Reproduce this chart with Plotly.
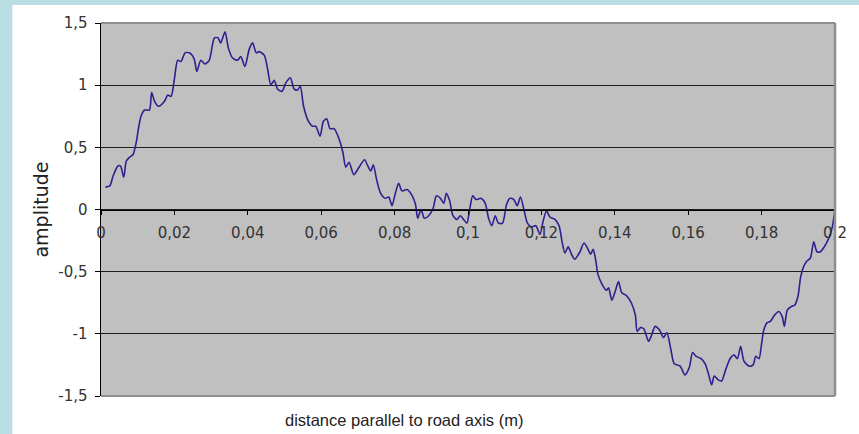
import plotly.graph_objects as go

# distance parallel to road axis (m)
x_m = [
    0.0012, 0.0024, 0.0033, 0.0046, 0.0053, 0.0062, 0.0069, 0.0078, 0.0087, 0.0096,
    0.0102, 0.0109, 0.0119, 0.0132, 0.0138, 0.0146, 0.0157, 0.0173, 0.0182, 0.0191,
    0.0200, 0.0209, 0.0218, 0.0229, 0.0241, 0.0254, 0.0261, 0.0272, 0.0283, 0.0295,
    0.0309, 0.0319, 0.0326, 0.0338, 0.0347, 0.0358, 0.0372, 0.0381, 0.0392, 0.0404,
    0.0413, 0.0423, 0.0431, 0.0445, 0.0454, 0.0463, 0.0472, 0.0481, 0.0493, 0.0504,
    0.0516, 0.0526, 0.0535, 0.0543, 0.0552, 0.0565, 0.0576, 0.0585, 0.0597, 0.0606,
    0.0615, 0.0624, 0.0635, 0.0649, 0.0659, 0.0667, 0.0676, 0.0689, 0.0703, 0.0718,
    0.0727, 0.0735, 0.0742, 0.0751, 0.0762, 0.0775, 0.0784, 0.0793, 0.0802, 0.0811,
    0.0820, 0.0834, 0.0848, 0.0857, 0.0863, 0.0872, 0.0881, 0.0893, 0.0905, 0.0914,
    0.0925, 0.0934, 0.0941, 0.0950, 0.0959, 0.0970, 0.0979, 0.0988, 0.0997, 0.1004,
    0.1013, 0.1022, 0.1035, 0.1047, 0.1056, 0.1065, 0.1074, 0.1083, 0.1094, 0.1105,
    0.1114, 0.1125, 0.1134, 0.1143, 0.1153, 0.1162, 0.1173, 0.1185, 0.1196, 0.1205,
    0.1214, 0.1223, 0.1237, 0.1248, 0.1257, 0.1264, 0.1273, 0.1282, 0.1291, 0.1305,
    0.1316, 0.1327, 0.1334, 0.1341, 0.1347, 0.1354, 0.1365, 0.1377, 0.1383, 0.1392,
    0.1401, 0.1410, 0.1419, 0.1431, 0.1445, 0.1456, 0.1461, 0.1470, 0.1479, 0.1492,
    0.1499, 0.1510, 0.1522, 0.1533, 0.1542, 0.1553, 0.1562, 0.1578, 0.1591, 0.1603,
    0.1612, 0.1621, 0.1635, 0.1646, 0.1655, 0.1664, 0.1671, 0.1682, 0.1691, 0.1702,
    0.1714, 0.1725, 0.1734, 0.1743, 0.1752, 0.1766, 0.1777, 0.1784, 0.1793, 0.1799,
    0.1806, 0.1815, 0.1824, 0.1835, 0.1847, 0.1856, 0.1862, 0.1870, 0.1881, 0.1890,
    0.1899, 0.1906, 0.1913, 0.1922, 0.1933, 0.1942, 0.1951, 0.1960, 0.1971, 0.1983,
    0.1992, 0.2000,
]

amplitude = [
    0.18, 0.19, 0.27, 0.35, 0.35, 0.26, 0.39, 0.42, 0.44, 0.54,
    0.65, 0.75, 0.80, 0.80, 0.94, 0.87, 0.83, 0.87, 0.92, 0.91,
    1.05, 1.20, 1.19, 1.26, 1.26, 1.21, 1.11, 1.20, 1.17, 1.20,
    1.38, 1.38, 1.34, 1.43, 1.30, 1.22, 1.20, 1.23, 1.15, 1.29,
    1.34, 1.26, 1.27, 1.24, 1.13, 1.00, 1.04, 0.97, 0.95, 1.02,
    1.06, 0.97, 0.96, 0.99, 0.83, 0.71, 0.67, 0.67, 0.59, 0.71,
    0.73, 0.65, 0.65, 0.565, 0.46, 0.34, 0.38, 0.28, 0.34, 0.40,
    0.35, 0.31, 0.36, 0.24, 0.13, 0.09, 0.10, 0.03, 0.13, 0.21,
    0.15, 0.16, 0.11, 0.04, -0.07, 0.00, -0.07, -0.05, 0.01, 0.11,
    0.09, 0.05, 0.13, 0.07, -0.05, -0.08, -0.05, -0.08, -0.11, -0.01,
    0.11, 0.08, 0.09, 0.05, -0.07, -0.13, -0.05, -0.11, -0.11, 0.04,
    0.09, 0.08, 0.03, 0.10, -0.01, -0.11, -0.14, -0.13, -0.20, -0.09,
    -0.01, -0.06, -0.08, -0.13, -0.27, -0.35, -0.30, -0.36, -0.40, -0.34,
    -0.27, -0.32, -0.36, -0.32, -0.39, -0.52, -0.60, -0.65, -0.63, -0.73,
    -0.66, -0.58, -0.67, -0.69, -0.75, -0.85, -0.98, -0.95, -0.96, -1.06,
    -1.02, -0.94, -0.97, -1.03, -0.99, -1.13, -1.24, -1.26, -1.33, -1.27,
    -1.15, -1.18, -1.20, -1.24, -1.32, -1.41, -1.34, -1.37, -1.38, -1.29,
    -1.20, -1.17, -1.20, -1.10, -1.22, -1.26, -1.25, -1.18, -1.20, -1.10,
    -0.97, -0.91, -0.90, -0.85, -0.82, -0.86, -0.94, -0.81, -0.78, -0.77,
    -0.70, -0.55, -0.47, -0.42, -0.39, -0.26, -0.34, -0.34, -0.30, -0.23,
    -0.15, 0.00,
]

x_tick_vals = [0, 0.02, 0.04, 0.06, 0.08, 0.1, 0.12, 0.14, 0.16, 0.18, 0.2]
x_tick_text = ["0", "0,02", "0,04", "0,06", "0,08", "0,1", "0,12", "0,14", "0,16", "0,18", "0,2"]
y_tick_vals = [-1.5, -1, -0.5, 0, 0.5, 1, 1.5]
y_tick_text = ["-1,5", "-1", "-0,5", "0", "0,5", "1", "1,5"]

x_title = "distance parallel to road axis (m)"
y_title = "amplitude"

BLUE_FRAME = "#b9dfe4"
PLOT_BG = "#c0c0c0"
LINE = "#2e2090"
BORDER = "#8e8e8e"
TICKFONT = dict(family="DejaVu Sans, Liberation Sans, Arial", size=15, color="#333333")

fig = go.Figure()
fig.add_trace(go.Scatter(
    x=x_m, y=amplitude, mode="lines",
    line=dict(color=LINE, width=1.6, shape="spline", smoothing=0.7),
    hoverinfo="skip", showlegend=False,
))

shapes = [
    # light blue frame strips (outside plot area)
    dict(type="rect", xref="paper", yref="paper", x0=-0.2, x1=-0.1208, y0=-0.2, y1=1.2,
         fillcolor=BLUE_FRAME, line=dict(width=0), layer="below"),
    dict(type="rect", xref="paper", yref="paper", x0=-0.2, x1=1.2, y0=1.0483, y1=1.2,
         fillcolor=BLUE_FRAME, line=dict(width=0), layer="below"),
    # plot border top/right/bottom
    dict(type="line", xref="paper", yref="paper", x0=0, x1=1.0, y0=1, y1=1,
         line=dict(color=BORDER, width=2), layer="above"),
    dict(type="line", xref="paper", yref="paper", x0=1.0, x1=1.0, y0=0, y1=1,
         line=dict(color=BORDER, width=2.5), layer="above"),
    dict(type="line", xref="paper", yref="paper", x0=0, x1=1.0, y0=0, y1=0,
         line=dict(color=BORDER, width=2), layer="above"),
]

fig.update_layout(
    width=859, height=434, autosize=False,
    margin=dict(l=101, r=21, t=23, b=38, pad=0),
    paper_bgcolor="white", plot_bgcolor=PLOT_BG,
    shapes=shapes,
    xaxis=dict(
        range=[0, 0.2], anchor="free", position=0.5,
        showline=True, linecolor="black", linewidth=1.2,
        ticks="outside", ticklen=4, tickcolor="black", tickwidth=1,
        tickvals=x_tick_vals, ticktext=x_tick_text, tickfont=TICKFONT,
        showgrid=False, zeroline=False, fixedrange=True, ticklabelstandoff=5,
    ),
    yaxis=dict(
        range=[-1.5, 1.5], showline=True, linecolor="black", linewidth=1.5,
        ticks="outside", ticklen=5, tickcolor="black", tickwidth=1,
        tickvals=y_tick_vals, ticktext=y_tick_text, tickfont=TICKFONT,
        showgrid=True, gridcolor="#1e1e1e", gridwidth=1.2,
        zeroline=False, fixedrange=True, ticklabelstandoff=4,
    ),
    annotations=[
        dict(text=x_title, xref="paper", yref="paper", x=0.4125, y=-0.064,
             xanchor="center", yanchor="middle", showarrow=False,
             font=dict(family="Liberation Sans, Arial", size=16.5, color="#222222")),
        dict(text=y_title, xref="paper", yref="paper", x=-0.083, y=0.5,
             xanchor="center", yanchor="middle", showarrow=False, textangle=-90,
             font=dict(family="DejaVu Sans, Liberation Sans, Arial", size=19, color="#222222")),
    ],
)

fig.write_html("out.html", config={"displayModeBar": False, "staticPlot": True},
               post_script="document.body.style.margin='0';document.body.style.overflow='hidden';")
